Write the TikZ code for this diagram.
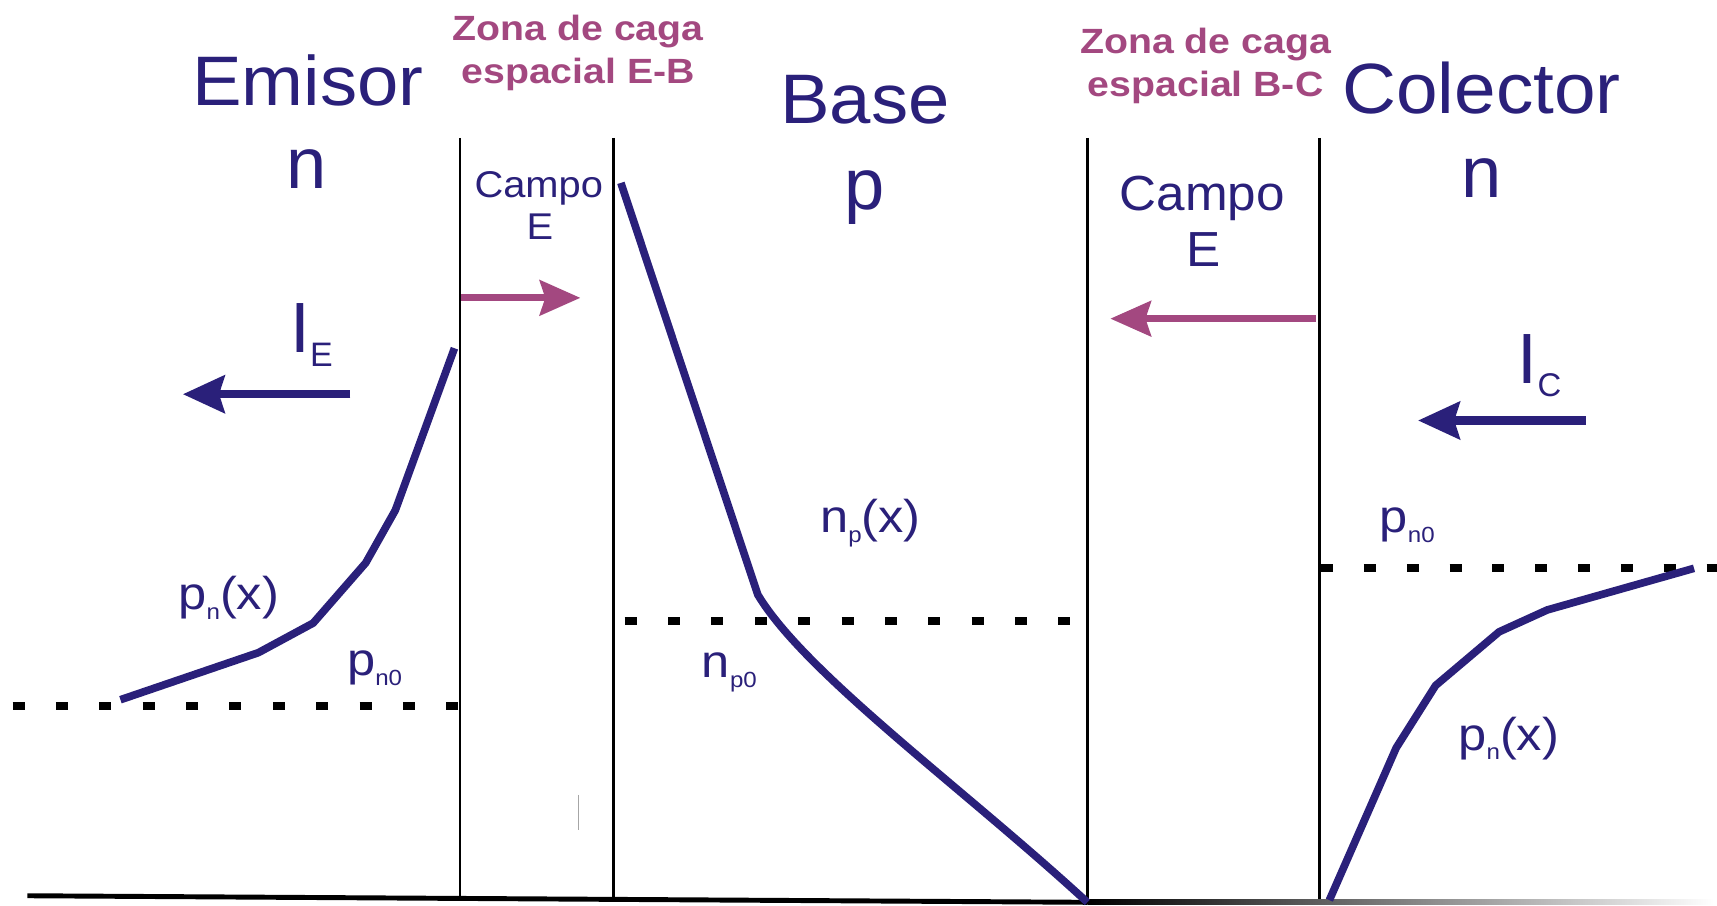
\documentclass[tikz,border=0pt]{standalone}
\usepackage{fontspec}
\usepackage{graphicx}
\setmainfont{Liberation Sans}
\usetikzlibrary{arrows.meta}
\definecolor{navy}{RGB}{42,32,122}
\definecolor{mauve}{RGB}{163,72,128}
\newcommand{\fs}[1]{\fontsize{#1}{#1}\selectfont}
\newcommand{\sx}[2]{\scalebox{#1}[1]{#2}}
\newcommand{\lbl}[3]{\sx{1.1}{#1\raisebox{-9pt}{\fs{20}#2}#3}}
\begin{document}
\begin{tikzpicture}[x=1pt,y=-1pt,
  txt/.style={anchor=base,inner sep=0pt,outer sep=0pt,text=navy},
  subl/.style={anchor=base west,inner sep=0pt,outer sep=0pt,text=navy,font=\fs{42}},
  pinkt/.style={anchor=base,inner sep=0pt,outer sep=0pt,text=mauve,font=\bfseries\fs{32}},
  wall/.style={draw=black,line width=2.4pt},
  curve/.style={draw=navy,line width=7pt,line join=round},
  eqline/.style={draw=black,line width=7pt},
  navyarrow/.style={draw=navy,line width=7.5pt,-{Stealth[length=38pt,width=34pt,inset=5pt]}},
  pinkarrow/.style={draw=mauve,line width=6.5pt,-{Stealth[length=37pt,width=32pt,inset=5pt]}}]
\useasboundingbox (0,0) rectangle (1568,827);
\fill[white] (0,0) rectangle (1568,827);

% walls
\coordinate (w1t) at (420,126); \coordinate (w1b) at (420,819);
\coordinate (w2t) at (560,126); \coordinate (w2b) at (560,820);
\coordinate (w3t) at (993,126); \coordinate (w3b) at (993,824);
\coordinate (w4t) at (1205,126); \coordinate (w4b) at (1205,823);
\draw[wall] (w1t) -- (w1b);
\draw[wall] (w2t) -- (w2b);
\draw[wall] (w3t) -- (w3b);
\draw[wall] (w4t) -- (w4b);
\draw[gray!70,line width=1.2pt] (528,726) -- (528,758);

% bottom line
\coordinate (b0) at (25,818);
\draw[black,line width=4.5pt] (b0) -- (w3b);
\shade[left color=black,right color=white] (993,821.8) rectangle (1565,826.2);

% equilibrium dotted lines
\draw[eqline,dash pattern=on 11pt off 28.6pt] (11.5,645) -- (418,645);
\draw[eqline,dash pattern=on 11pt off 28.6pt] (570.5,567) -- (982,567);
\draw[eqline,dash pattern=on 11pt off 28.1pt] (1206.5,519) -- (1568,519);

% carrier profiles
\draw[curve] (110,639) -- (236,596) -- (286,569) -- (334,514) -- (361,466) -- (415,318);
\draw[curve] (567,167) -- (692,543) .. controls (735,615) and (880,720) .. (w3b);
\draw[curve] (1214,822) -- (1275,683) -- (1311,626) -- (1369,577) -- (1413,557) -- (1547,519);

% arrows
\coordinate (ieA) at (320,360); \coordinate (ieB) at (167,360);
\draw[navyarrow] (ieA) -- (ieB);
\coordinate (icA) at (1448,384); \coordinate (icB) at (1295,384);
\draw[navyarrow] (icA) -- (icB);
\coordinate (ebA) at (421,272); \coordinate (ebB) at (530,272);
\draw[pinkarrow] (ebA) -- (ebB);
\coordinate (bcA) at (1202,291); \coordinate (bcB) at (1014,291);
\draw[pinkarrow] (bcA) -- (bcB);

% region titles
\node[txt,font=\fs{64}] (emisor) at (281,96) {\sx{1.06}{Emisor}};
\node[txt,font=\fs{66}] (nE) at (280,172) {n};
\node[txt,font=\fs{64}] (base) at (790,113) {\sx{1.06}{Base}};
\node[txt,font=\fs{66}] (pB) at (790,191) {p};
\node[txt,font=\fs{65}] (colector) at (1353,104) {\sx{1.05}{Colector}};
\node[txt,font=\fs{66}] (nC) at (1353,180) {n};

% space-charge zones
\node[pinkt] (zeb1) at (528,37) {\sx{1.12}{Zona de caga}};
\node[pinkt] (zeb2) at (528,76) {\sx{1.12}{espacial E-B}};
\node[pinkt] (zbc1) at (1101,49) {\sx{1.12}{Zona de caga}};
\node[pinkt] (zbc2) at (1101,88) {\sx{1.12}{espacial B-C}};

% field labels
\node[txt,font=\fs{34}] (campo1) at (492,180) {\sx{1.07}{Campo}};
\node[txt,font=\fs{34}] (e1) at (493,219) {\sx{1.07}{E}};
\node[txt,font=\fs{45}] (campo2) at (1098,192) {\sx{1.04}{Campo}};
\node[txt,font=\fs{45}] (e2) at (1099,243) {\sx{1.04}{E}};

% currents
\node[anchor=base west,inner sep=0pt,text=navy,font=\fs{65}] (IE) at (265,322) {I\raisebox{-13pt}{\fs{31}E}};
\node[anchor=base west,inner sep=0pt,text=navy,font=\fs{65}] (IC) at (1386,350) {I\raisebox{-12pt}{\fs{30}C}};

% concentration labels
\node[subl] (pnxE) at (163,557) {\lbl{p}{n}{(x)}};
\node[subl] (pn0E) at (317,617) {\lbl{p}{n0}{}};
\node[subl] (npx) at (749,486) {\lbl{n}{p}{(x)}};
\node[subl] (np0) at (641,619) {\lbl{n}{p0}{}};
\node[subl] (pn0C) at (1260,486) {\lbl{p}{n0}{}};
\node[subl] (pnxC) at (1332,685) {\lbl{p}{n}{(x)}};
\end{tikzpicture}
\end{document}
